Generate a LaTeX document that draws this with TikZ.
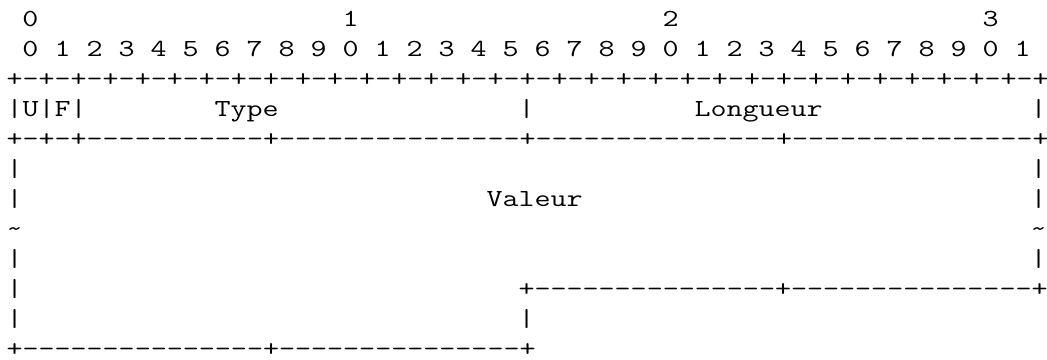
\documentclass[tikz,border=0pt]{standalone}
\def\five{-----}
\def\fifteen{\five\five\five}
\begin{document}
\begin{tikzpicture}[x=0.75pt,y=-0.75pt,
    ch/.style={anchor=base west,inner sep=0pt,outer sep=0pt,
      font=\ttfamily\fontsize{18.4pt}{30pt}\selectfont}]
    \useasboundingbox (0,0) rectangle (1047,360);
    \def\cw{16}
    \def\lh{30}
    \def\xo{6.5}
    \def\yo{26.5}
    \def\wide#1{\scalebox{1.269}[1]{#1}}
    \foreach \t in {0,...,3}
      \node[ch] (tens\t) at (\xo+\cw+20*\cw*\t, \yo) {\wide{\t}};
    \foreach \k in {0,...,31} {
      \pgfmathtruncatemacro\d{mod(\k,10)}
      \node[ch] (bit\k) at (\xo+\cw+2*\cw*\k, \yo+\lh) {\wide{\d}};
    }
    \node[ch] (rule) at (\xo, \yo+2*\lh) {\wide{\foreach \k in {1,...,32}{+-}+}};
    \node[ch] (flags) at (\xo, \yo+3*\lh) {\wide{|U|F|}};
    \node[ch] (type) at (\xo+13*\cw, \yo+3*\lh) {\wide{Type}};
    \node[ch] (mid) at (\xo+32*\cw, \yo+3*\lh) {\wide{|}};
    \node[ch] (len) at (\xo+43*\cw, \yo+3*\lh) {\wide{Longueur}};
    \node[ch] (right) at (\xo+64*\cw, \yo+3*\lh) {\wide{|}};
    \node[ch] (top) at (\xo, \yo+4*\lh) {\wide{+-+-+\five\five-+\fifteen+\fifteen+\fifteen+}};
    \foreach \r/\s in {5/|,6/|,7/\textasciitilde,8/|} {
      \node[ch] (l\r) at (\xo, \yo+\r*\lh) {\wide{\s}};
      \node[ch] (r\r) at (\xo+64*\cw, \yo+\r*\lh) {\wide{\s}};
    }
    \node[ch] (val) at (\xo+30*\cw, \yo+6*\lh) {\wide{Valeur}};
    \node[ch] (l9) at (\xo, \yo+9*\lh) {\wide{|}};
    \node[ch] (step9) at (\xo+32*\cw, \yo+9*\lh) {\wide{+\fifteen+\fifteen+}};
    \node[ch] (l10) at (\xo, \yo+10*\lh) {\wide{|}};
    \node[ch] (m10) at (\xo+32*\cw, \yo+10*\lh) {\wide{|}};
    \node[ch] (bottom) at (\xo, \yo+11*\lh) {\wide{+\fifteen+\fifteen+}};
\end{tikzpicture}
\end{document}
